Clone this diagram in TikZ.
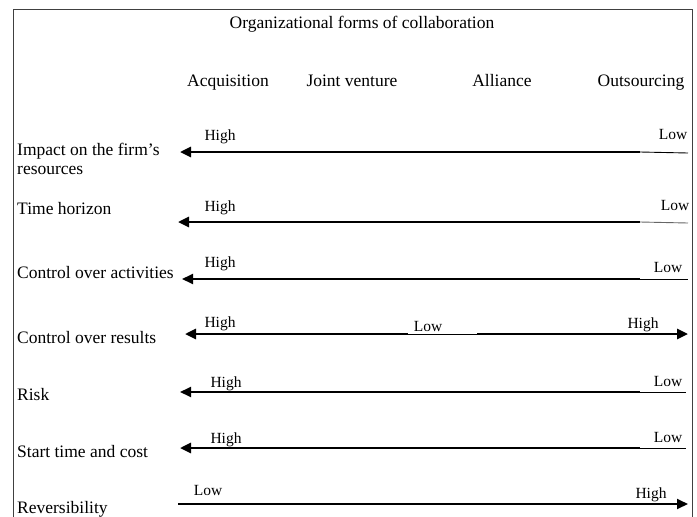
\documentclass[tikz,border=0pt]{standalone}
\usepackage{fontspec}
\setmainfont{Liberation Serif}
\usetikzlibrary{arrows.meta}
\tikzstyle{head}=[font=\fontsize{17.5}{20}\selectfont, inner sep=0pt, anchor=base]
\tikzstyle{row}=[font=\fontsize{17.5}{19}\selectfont, inner sep=0pt, anchor=base west, align=left]
\tikzstyle{level}=[font=\fontsize{15.5}{18}\selectfont, inner sep=0pt, anchor=base]
\tikzstyle{thick arrow}=[line width=2.6pt, -{Triangle[length=11pt,width=10pt]}]
\tikzstyle{thin line}=[line width=0.9pt]

\begin{document}
\begin{tikzpicture}[x=1pt, y=-1pt]
	\useasboundingbox (0,0) rectangle (697,517);
	% frame, open at the bottom
	\draw [line width=1pt, black!75] (13,517) -- (13,9) -- (692,9) -- (692,517);

	\node [style=head] (title) at (362,28) {Organizational forms of collaboration};
	\node [style=head] (acq) at (228,86) {Acquisition};
	\node [style=head] (jv) at (352,86) {Joint venture};
	\node [style=head] (all) at (502,86) {Alliance};
	\node [style=head] (out) at (641,86) {Outsourcing};

	% impact
	\node [style=row] (r1) at (17,174) {Impact on the firm's\\resources};
	\node [style=level] (h1) at (220,140) {High};
	\node [style=level] (l1) at (673,139) {Low};
	\coordinate (a1) at (180,152);
	\coordinate (m1) at (640,152);
	\coordinate (e1) at (688,153);
	\draw [style=thick arrow] (m1) -- (a1);
	\draw [style=thin line] (m1) -- (e1);

	% time horizon
	\node [style=row] (r2) at (17,214) {Time horizon};
	\node [style=level] (h2) at (220,211) {High};
	\node [style=level] (l2) at (675,210) {Low};
	\coordinate (a2) at (178,222);
	\coordinate (m2) at (640,222);
	\coordinate (e2) at (688,223);
	\draw [style=thick arrow] (m2) -- (a2);
	\draw [style=thin line, black!60] (m2) -- (e2);

	% control over activities
	\node [style=row] (r3) at (17,278) {Control over activities};
	\node [style=level] (h3) at (220,267) {High};
	\node [style=level] (l3) at (668,272) {Low};
	\coordinate (a3) at (182,279);
	\coordinate (m3) at (640,279);
	\coordinate (e3) at (688,279);
	\draw [style=thick arrow, line width=1.8pt] (m3) -- (a3);
	\draw [style=thin line] (m3) -- (e3);

	% control over results
	\node [style=row] (r4) at (17,343) {Control over results};
	\node [style=level] (h4) at (220,327) {High};
	\node [style=level] (l4) at (428,331) {Low};
	\node [style=level] (h4b) at (643,328) {High};
	\coordinate (a4) at (185,334);
	\coordinate (g4) at (408,334);
	\coordinate (k4) at (477,334);
	\coordinate (b4) at (688,334);
	\draw [style=thick arrow] (g4) -- (a4);
	\draw [style=thick arrow] (k4) -- (b4);
	\draw [style=thin line] (g4) -- (k4);

	% risk
	\node [style=row] (r5) at (17,400) {Risk};
	\node [style=level] (h5) at (226,387) {High};
	\node [style=level] (l5) at (668,386) {Low};
	\coordinate (a5) at (180,392);
	\coordinate (m5) at (640,392);
	\coordinate (e5) at (686,392);
	\draw [style=thick arrow, line width=1.8pt] (m5) -- (a5);
	\draw [style=thin line] (m5) -- (e5);

	% start time and cost
	\node [style=row] (r6) at (17,457) {Start time and cost};
	\node [style=level] (h6) at (226,443) {High};
	\node [style=level] (l6) at (668,442) {Low};
	\coordinate (a6) at (180,448);
	\coordinate (m6) at (640,448);
	\coordinate (e6) at (686,448);
	\draw [style=thick arrow] (m6) -- (a6);
	\draw [style=thin line] (m6) -- (e6);

	% reversibility
	\node [style=row] (r7) at (17,513) {Reversibility};
	\node [style=level] (l7) at (208,495) {Low};
	\node [style=level] (h7) at (651,498) {High};
	\coordinate (a7) at (178,504);
	\coordinate (b7) at (688,504);
	\draw [style=thick arrow, line width=1.8pt] (a7) -- (b7);
\end{tikzpicture}
\end{document}
